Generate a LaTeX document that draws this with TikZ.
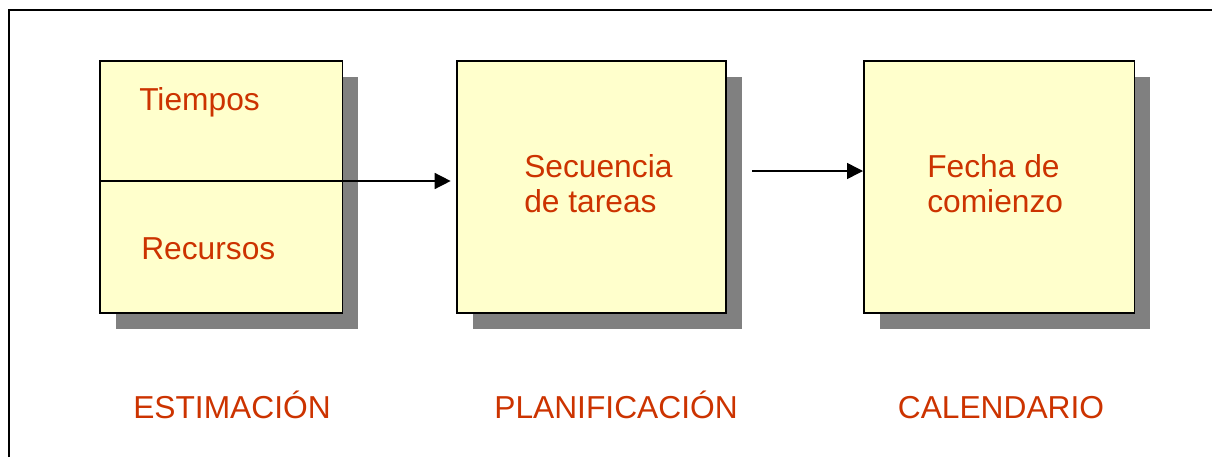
\documentclass[tikz,border=0pt]{standalone}
\usepackage{fontspec}
\setmainfont{Liberation Sans}
\usetikzlibrary{arrows.meta, shadows}

\definecolor{boxfill}{RGB}{255,255,204}
\definecolor{txtred}{RGB}{204,51,0}

\begin{document}
\begin{tikzpicture}[x=0.75pt, y=-0.75pt,
    phase/.style={draw=black, line width=1.2pt, fill=boxfill, anchor=north west,
        inner sep=0pt, minimum height=189pt,
        drop shadow={shadow xshift=12pt, shadow yshift=-12pt, fill=gray, opacity=1}},
    txt/.style={text=txtred, inner sep=0pt, anchor=base west,
        font=\fontsize{23.8}{28}\selectfont},
    label/.style={txt, anchor=base},
    arr/.style={line width=1.1pt, -{Triangle[length=12pt, width=12pt]}}]
    \useasboundingbox (0,0) rectangle (1212,457);

    % frame
    \draw[line width=1.6pt] (9,457) -- (9,10) -- (1212,10);

    % boxes
    \node[phase, minimum width=182pt] (est) at (99,60) {};
    \node[phase, minimum width=202pt] (plan) at (456,60) {};
    \node[phase, minimum width=203pt] (cal) at (863,60) {};

    \coordinate (S) at (99,181);
    \coordinate (T) at (752,171);

    \draw[arr, shorten >=4pt] (S) -- (S -| plan.west);
    \draw[arr] (T) -- (T -| cal.west);

    % texts
    \node[txt] (tiempos) at (139,110) {Tiempos};
    \node[txt] (recursos) at (141,259) {Recursos};
    \node[txt] (sec) at (524,177) {Secuencia};
    \node[txt] (tar) at (524,212) {de tareas};
    \node[txt] (fecha) at (927,177) {Fecha de};
    \node[txt] (com) at (927,212) {comienzo};

    \node[label] (lest) at (232,418) {ESTIMACIÓN};
    \node[label] (lplan) at (616,418) {PLANIFICACIÓN};
    \node[label] (lcal) at (1001,418) {CALENDARIO};
\end{tikzpicture}
\end{document}
